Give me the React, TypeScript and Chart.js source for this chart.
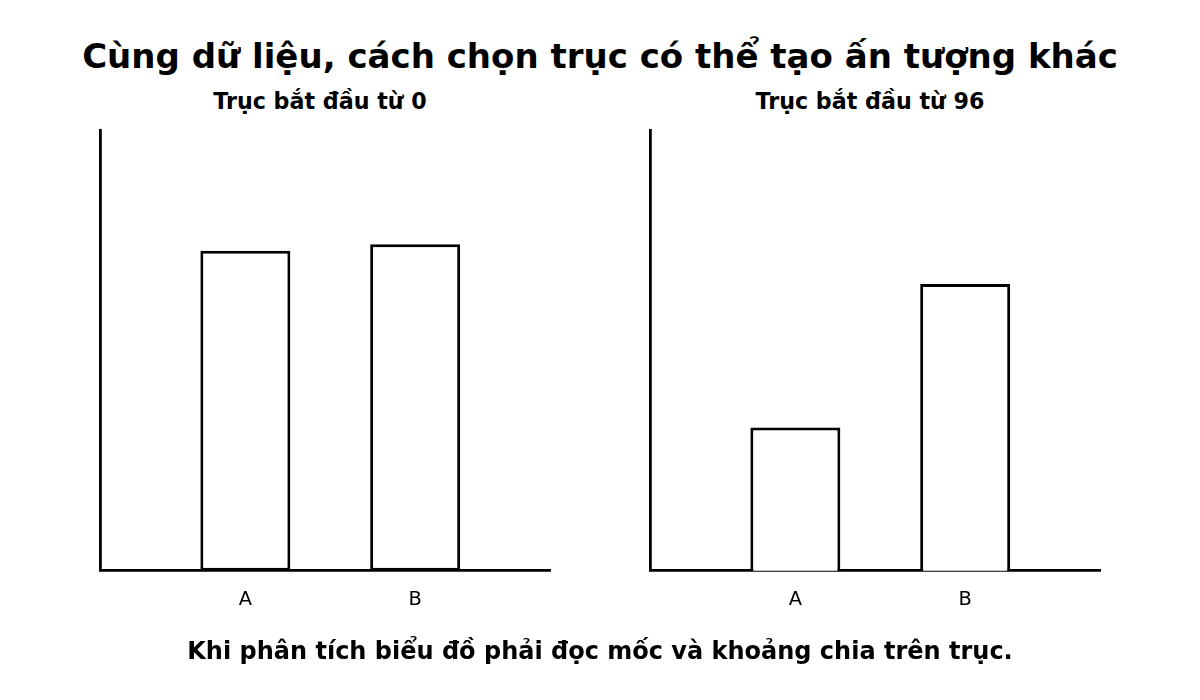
import React, { useEffect, useRef } from "react";
import { Chart, registerables } from "chart.js";

Chart.register(...registerables);

const categories = ["A", "B"];
const values = [98, 100];
const leftAxisMin = 0;
const leftAxisMax = 135;
const rightAxisMin = 96;
const rightAxisMax = 102.15;
const mainTitle = "Cùng dữ liệu, cách chọn trục có thể tạo ấn tượng khác";
const leftTitle = "Trục bắt đầu từ 0";
const rightTitle = "Trục bắt đầu từ 96";
const footer = "Khi phân tích biểu đồ phải đọc mốc và khoảng chia trên trục.";

const FONT = "'DejaVu Sans', sans-serif";

function BarPanel({ yMin, yMax, left }: { yMin: number; yMax: number; left: number }) {
  const ref = useRef<HTMLCanvasElement | null>(null);
  useEffect(() => {
    if (!ref.current) return;
    const chart = new Chart(ref.current, {
      type: "bar",
      data: {
        datasets: [
          {
            data: categories.map((_, i) => ({ x: i, y: values[i] })),
            backgroundColor: "#ffffff",
            borderColor: "#000000",
            borderWidth: 3,
            borderSkipped: false,
            categoryPercentage: 1,
            barPercentage: 0.53,
          },
        ],
      },
      options: {
        animation: false,
        responsive: false,
        maintainAspectRatio: false,
        layout: { padding: { left: 10, right: 10, top: 10, bottom: 10 } },
        plugins: { legend: { display: false }, tooltip: { enabled: false }, title: { display: false } },
        scales: {
          x: {
            type: "linear",
            min: -0.856,
            max: 1.794,
            offset: false,
            grid: { display: false, drawTicks: false },
            border: { display: true, color: "#000000", width: 2.8 },
            afterBuildTicks: (scale: any) => {
              scale.ticks = categories.map((_, i) => ({ value: i }));
            },
            ticks: {
              autoSkip: false,
              maxRotation: 0,
              padding: 18,
              color: "#000000",
              font: { family: FONT, size: 19.4 },
              callback: (v: any) => categories[Number(v)] ?? "",
            },
          },
          y: {
            min: yMin,
            max: yMax,
            grid: { display: false, drawTicks: false },
            border: { display: true, color: "#000000", width: 2.8 },
            ticks: { display: false },
          },
        },
      },
    });
    return () => chart.destroy();
  }, [yMin, yMax]);
  return (
    <canvas
      ref={ref}
      width={470}
      height={520}
      style={{ position: "absolute", left: left - 10, top: 120, width: 470, height: 520 }}
    />
  );
}

const textStyle = (cy: number, size: number, cx: number, w: number): React.CSSProperties => ({
  position: "absolute",
  left: cx - w / 2,
  width: w,
  top: cy - size / 2,
  textAlign: "center",
  fontFamily: FONT,
  fontWeight: "bold",
  fontSize: size,
  lineHeight: `${size}px`,
  color: "#000",
  whiteSpace: "nowrap",
});

export default function App() {
  return (
    <div style={{ position: "fixed", left: 0, top: 0, width: 1200, height: 700, background: "#fff", overflow: "hidden" }}>
      <div style={textStyle(56, 34, 600, 1200)}>{mainTitle}</div>
      <div style={textStyle(101, 22.2, 320, 500)}>{leftTitle}</div>
      <div style={textStyle(101, 22.2, 870, 500)}>{rightTitle}</div>
      <BarPanel yMin={leftAxisMin} yMax={leftAxisMax} left={100} />
      <BarPanel yMin={rightAxisMin} yMax={rightAxisMax} left={650} />
      <div style={textStyle(651, 24, 600, 1200)}>{footer}</div>
    </div>
  );
}
